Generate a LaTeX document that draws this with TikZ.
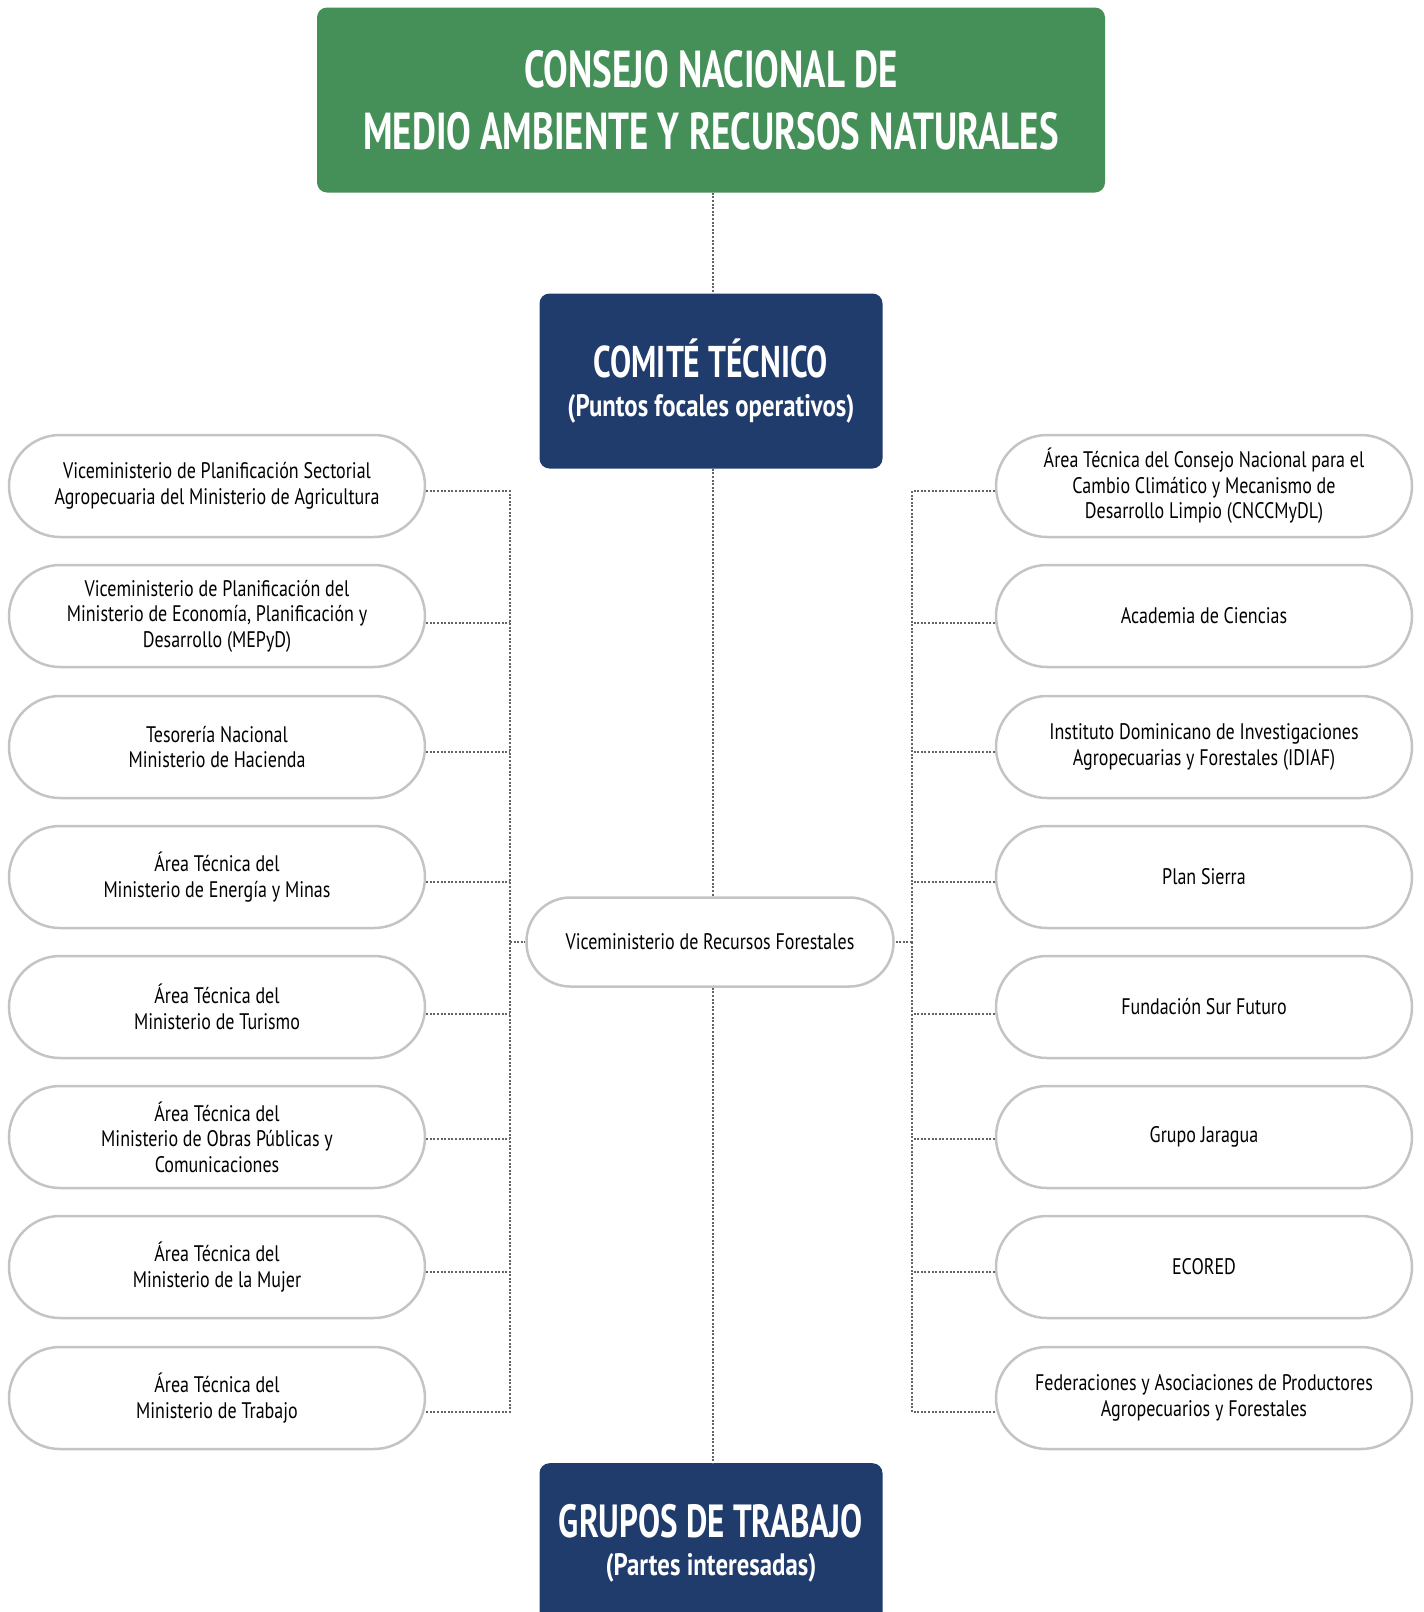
\documentclass[tikz,border=0pt]{standalone}
\usepackage{fontspec}
\setmainfont[FakeStretch=0.80]{PT Sans}
\newfontfamily\headfont[FakeStretch=0.71]{PT Sans}
\usetikzlibrary{positioning}
\definecolor{ConsejoGreen}{RGB}{69,143,88}
\definecolor{ComiteBlue}{RGB}{31,60,108}
\definecolor{PillGray}{RGB}{196,196,196}
\definecolor{LinkGray}{RGB}{100,100,100}

\begin{document}
\begin{tikzpicture}[x=1pt,y=-1pt]

  \tikzset{
    PillStyle/.style = {draw=PillGray, line width=2.5pt, fill=white,
      rounded corners=51pt, minimum width=416pt, minimum height=102pt,
      align=center, font=\fontsize{22.5}{25.5}\selectfont},
    HeadStyle/.style = {fill=ComiteBlue, rounded corners=10pt, text=white,
      align=center, minimum width=343pt, minimum height=175pt, font=\bfseries},
    LinkStyle/.style = {draw=LinkGray, line width=2pt, dash pattern=on 2pt off 1.6pt}}

  \clip (0,0) rectangle (1424,1612);

  \node[HeadStyle, fill=ConsejoGreen, minimum width=788pt, minimum height=185pt,
    font=\headfont\bfseries\fontsize{52}{62}\selectfont] (consejo) at (711,100)
    {CONSEJO NACIONAL DE\\MEDIO AMBIENTE Y RECURSOS NATURALES};
  \node[HeadStyle] (comite) at (711,381)
    {{\headfont\fontsize{44.5}{48}\selectfont COMITÉ TÉCNICO}\\[16pt]
     {\fontsize{31}{34}\selectfont (Puntos focales operativos)}};
  \node[HeadStyle, anchor=north, minimum height=160pt] (grupos) at (711,1463)
    {{\headfont\fontsize{46.5}{48}\selectfont GRUPOS DE TRABAJO}\\[15pt]
     {\fontsize{31}{34}\selectfont (Partes interesadas)}};
  \node[PillStyle, minimum width=367pt, minimum height=89pt, rounded corners=44pt]
    (forestal) at (710,942) {Viceministerio de Recursos Forestales};

  \node[PillStyle] (L1) at (217,486) {Viceministerio de Planificación Sectorial\\Agropecuaria del Ministerio de Agricultura};
  \node[PillStyle] (L2) at (217,616) {Viceministerio de Planificación del\\Ministerio de Economía, Planificación y\\Desarrollo (MEPyD)};
  \node[PillStyle] (L3) at (217,747) {Tesorería Nacional\\Ministerio de Hacienda};
  \node[PillStyle] (L4) at (217,877) {Área Técnica del\\Ministerio de Energía y Minas};
  \node[PillStyle] (L5) at (217,1007) {Área Técnica del\\Ministerio de Turismo};
  \node[PillStyle] (L6) at (217,1137) {Área Técnica del\\Ministerio de Obras Públicas y\\Comunicaciones};
  \node[PillStyle] (L7) at (217,1267) {Área Técnica del\\Ministerio de la Mujer};
  \node[PillStyle] (L8) at (217,1398) {Área Técnica del\\Ministerio de Trabajo};

  \node[PillStyle] (R1) at (1204,486) {Área Técnica del Consejo Nacional para el\\Cambio Climático y Mecanismo de\\Desarrollo Limpio (CNCCMyDL)};
  \node[PillStyle] (R2) at (1204,616) {Academia de Ciencias};
  \node[PillStyle] (R3) at (1204,747) {Instituto Dominicano de Investigaciones\\Agropecuarias y Forestales (IDIAF)};
  \node[PillStyle] (R4) at (1204,877) {Plan Sierra};
  \node[PillStyle] (R5) at (1204,1007) {Fundación Sur Futuro};
  \node[PillStyle] (R6) at (1204,1137) {Grupo Jaragua};
  \node[PillStyle] (R7) at (1204,1267) {ECORED};
  \node[PillStyle] (R8) at (1204,1398) {Federaciones y Asociaciones de Productores\\Agropecuarios y Forestales};

  \coordinate (lbus) at (510,942);
  \coordinate (rbus) at (912,942);

  \draw[LinkStyle] (consejo.south -| 713,0) -- (comite.north -| 713,0);
  \draw[LinkStyle] (comite.south -| 713,0) -- (forestal.north -| 713,0);
  \draw[LinkStyle] (forestal.south -| 713,0) -- (grupos.north -| 713,0);

  \draw[LinkStyle] (lbus) -- (forestal.west);
  \draw[LinkStyle] (rbus) -- (forestal.east);
  \draw[LinkStyle] ([yshift=-5pt]L1.east) -| (lbus);
  \draw[LinkStyle] ([yshift=-14pt]L8.east) -| (lbus);
  \draw[LinkStyle] ([yshift=-5pt]R1.west) -| (rbus);
  \draw[LinkStyle] ([yshift=-14pt]R8.west) -| (rbus);
  \draw[LinkStyle] ([yshift=-7pt]L2.east) -- ([yshift=-7pt]L2.east -| lbus);
  \draw[LinkStyle] ([yshift=-5pt]L3.east) -- ([yshift=-5pt]L3.east -| lbus);
  \draw[LinkStyle] ([yshift=-5pt]L4.east) -- ([yshift=-5pt]L4.east -| lbus);
  \draw[LinkStyle] ([yshift=-7pt]L5.east) -- ([yshift=-7pt]L5.east -| lbus);
  \draw[LinkStyle] ([yshift=-2pt]L6.east) -- ([yshift=-2pt]L6.east -| lbus);
  \draw[LinkStyle] ([yshift=-5pt]L7.east) -- ([yshift=-5pt]L7.east -| lbus);
  \draw[LinkStyle] ([yshift=-7pt]R2.west) -- ([yshift=-7pt]R2.west -| rbus);
  \draw[LinkStyle] ([yshift=-5pt]R3.west) -- ([yshift=-5pt]R3.west -| rbus);
  \draw[LinkStyle] ([yshift=-5pt]R4.west) -- ([yshift=-5pt]R4.west -| rbus);
  \draw[LinkStyle] ([yshift=-7pt]R5.west) -- ([yshift=-7pt]R5.west -| rbus);
  \draw[LinkStyle] ([yshift=-2pt]R6.west) -- ([yshift=-2pt]R6.west -| rbus);
  \draw[LinkStyle] ([yshift=-5pt]R7.west) -- ([yshift=-5pt]R7.west -| rbus);

\end{tikzpicture}
\end{document}
